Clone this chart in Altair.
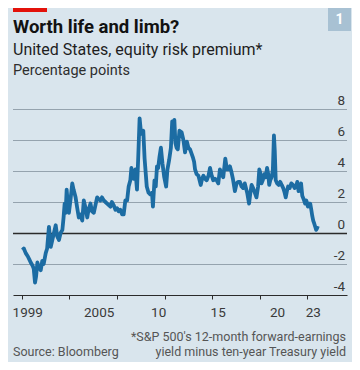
import altair as alt
import pandas as pd

# Equity risk premium, percentage points
years = [
    1999.06, 1999.17, 1999.33, 1999.50, 1999.63, 1999.75, 1999.90, 2000.00, 2000.11, 2000.20,
    2000.31, 2000.42, 2000.59, 2000.72, 2000.84, 2001.01, 2001.13, 2001.28, 2001.37, 2001.43,
    2001.55, 2001.70, 2001.85, 2001.97, 2002.12, 2002.26, 2002.41, 2002.51, 2002.60, 2002.68,
    2002.77, 2002.85, 2002.96, 2003.10, 2003.24, 2003.35, 2003.52, 2003.66, 2003.79, 2003.94,
    2004.08, 2004.21, 2004.36, 2004.50, 2004.61, 2004.77, 2004.90, 2005.05, 2005.19, 2005.33,
    2005.44, 2005.61, 2005.74, 2005.89, 2006.03, 2006.17, 2006.31, 2006.45, 2006.57, 2006.72,
    2006.87, 2007.01, 2007.14, 2007.28, 2007.43, 2007.56, 2007.70, 2007.85, 2007.98, 2008.12,
    2008.21, 2008.29, 2008.40, 2008.54, 2008.68, 2008.79, 2008.90, 2009.00, 2009.10, 2009.21,
    2009.32, 2009.40, 2009.50, 2009.65, 2009.79, 2009.94, 2010.02, 2010.15, 2010.26, 2010.36,
    2010.46, 2010.57, 2010.69, 2010.82, 2010.97, 2011.13, 2011.24, 2011.38, 2011.53, 2011.64,
    2011.74, 2011.82, 2011.91, 2012.01, 2012.11, 2012.25, 2012.43, 2012.58, 2012.72, 2012.87,
    2013.00, 2013.14, 2013.37, 2013.48, 2013.56, 2013.69, 2013.84, 2014.04, 2014.15, 2014.26,
    2014.40, 2014.54, 2014.69, 2014.82, 2014.96, 2015.09, 2015.23, 2015.38, 2015.51, 2015.65,
    2015.78, 2015.93, 2016.10, 2016.24, 2016.36, 2016.49, 2016.63, 2016.74, 2016.91, 2017.05,
    2017.18, 2017.33, 2017.47, 2017.60, 2017.74, 2017.87, 2017.94, 2018.10, 2018.21, 2018.31,
    2018.44, 2018.58, 2018.72, 2018.86, 2018.96, 2019.04, 2019.14, 2019.25, 2019.38, 2019.50,
    2019.61, 2019.71, 2019.79, 2019.88, 2020.00, 2020.10, 2020.19, 2020.26, 2020.34, 2020.46,
    2020.59, 2020.72, 2020.84, 2020.97, 2021.09, 2021.18, 2021.28, 2021.38, 2021.51, 2021.65,
    2021.79, 2021.93, 2022.05, 2022.15, 2022.26, 2022.37, 2022.47, 2022.57, 2022.68, 2022.81,
    2022.91, 2023.04, 2023.14, 2023.24, 2023.33, 2023.41, 2023.49, 2023.58, 2023.66, 2023.74,
    2023.81, 2023.88,
]
premium = [
    -1.1, -1.0, -1.3, -1.5, -1.7, -1.9, -2.1, -2.3, -3.2, -2.8,
    -1.9, -2.2, -2.4, -1.8, -2.0, -1.3, -1.0, 0.4, -0.3, -0.9,
    -0.5, 0.0, 0.5, -0.2, -0.45, 0.0, 0.2, 1.0, 1.9, 1.3,
    2.8, 2.0, 1.3, 2.2, 3.2, 2.8, 2.3, 1.6, 1.0, 1.2,
    0.8, 2.1, 1.6, 1.0, 1.5, 1.9, 1.4, 1.3, 1.8, 2.3,
    2.2, 2.1, 2.3, 2.1, 2.0, 1.9, 1.8, 1.7, 2.0, 1.8,
    1.5, 1.6, 1.4, 1.5, 1.2, 1.2, 2.1, 2.1, 3.0, 3.4,
    4.2, 3.6, 3.5, 4.1, 2.8, 5.0, 7.4, 6.6, 6.4, 6.6,
    4.8, 4.0, 3.0, 2.6, 2.5, 2.6, 1.7, 3.4, 3.0, 4.3,
    4.2, 4.9, 5.5, 4.5, 3.6, 3.0, 4.1, 4.7, 5.5, 7.2,
    6.6, 7.3, 5.8, 5.5, 5.4, 6.6, 6.5, 6.0, 5.2, 5.9,
    5.5, 5.4, 4.9, 4.6, 4.1, 3.8, 3.7, 3.1, 3.5, 3.7,
    3.5, 3.4, 3.7, 4.2, 3.7, 3.4, 3.5, 3.4, 3.2, 4.1,
    3.8, 3.6, 4.8, 4.1, 4.1, 4.3, 3.9, 3.5, 2.7, 3.2,
    3.3, 3.3, 3.0, 2.9, 3.2, 2.8, 2.6, 1.9, 2.6, 3.1,
    2.9, 2.6, 2.3, 3.0, 4.1, 3.9, 3.2, 3.4, 3.8, 3.6,
    4.2, 3.8, 3.1, 3.4, 3.6, 4.1, 6.3, 5.3, 3.4, 3.2,
    3.1, 3.3, 3.1, 2.9, 2.6, 2.3, 2.7, 3.0, 2.9, 3.2,
    3.1, 2.9, 3.0, 3.3, 2.7, 3.0, 3.2, 2.4, 2.2, 1.9,
    2.1, 1.7, 1.9, 1.9, 1.5, 1.1, 0.8, 0.6, 0.4, 0.2,
    0.3, 0.45,
]

tick_years = list(range(1999, 2025))
label_pos = [1999.5, 2005.5, 2010.5, 2015.5, 2020.5, 2023.5]
label_text = ["1999", "2005", "10", "15", "20", "23"]
y_ticks = [-4, -2, 0, 2, 4, 6, 8]
grid_vals = [-2, 2, 4, 6, 8]

title = "Worth life and limb?"
subtitle = "United States, equity risk premium*"
unit = "Percentage points"
source = "Source: Bloomberg"
note1 = "*S&P 500's 12-month forward-earnings"
note2 = "yield minus ten-year Treasury yield"

W, H = 334, 186
BG = "#d9e5ed"
FONT = "Roboto"

df = pd.DataFrame({"year": years, "erp": premium})
xscale = alt.Scale(domain=[1998.26, 2026.33], nice=False, zero=False)
yscale = alt.Scale(domain=[-4, 8], nice=False, zero=False)

# horizontal reference lines (light grid, dark zero line)
rules_df = pd.DataFrame({
    "r": grid_vals + [0],
    "kind": ["grid"] * len(grid_vals) + ["zero"],
})
rules = alt.Chart(rules_df).mark_rule(yOffset=0.5).encode(
    x=alt.value(0), x2=alt.value(W),
    y=alt.Y("r:Q", scale=yscale, axis=None),
    color=alt.Color("kind:N", legend=None,
                    scale=alt.Scale(domain=["grid", "zero"], range=["#95a3ae", "#2b2b2b"])),
    strokeWidth=alt.StrokeWidth("kind:N", legend=None,
                                scale=alt.Scale(domain=["grid", "zero"], range=[1.1, 1.3])),
)

ylabels = alt.Chart(pd.DataFrame({"v": y_ticks, "t": [str(v) for v in y_ticks]})).mark_text(
    font=FONT, fontSize=13.5, color="#3a3a3a", align="right", baseline="bottom", dy=-1
).encode(x=alt.value(W - 2), y=alt.Y("v:Q", scale=yscale, axis=None), text="t:N")

line = alt.Chart(df).mark_line(color="#1c6ca3", strokeWidth=3.8, strokeJoin="round").encode(
    x=alt.X("year:Q", scale=xscale,
            axis=alt.Axis(values=tick_years, labels=False, ticks=True, tickSize=4,
                          tickColor="#2b2b2b", tickWidth=1, domain=True,
                          domainColor="#2b2b2b", domainWidth=1.2, grid=False, title=None)),
    y=alt.Y("erp:Q", scale=yscale, axis=None),
)

xlabels = alt.Chart(pd.DataFrame({"p": label_pos, "t": label_text})).mark_text(
    font=FONT, fontSize=13.5, color="#3a3a3a", baseline="middle", align="center"
).encode(x=alt.X("p:Q", scale=xscale), y=alt.value(H + 18), text="t:N")

one = alt.Data(values=[{}])
red = alt.Chart(one).mark_rect(color="#e3120b").encode(
    x=alt.value(0), x2=alt.value(34), y=alt.value(-101), y2=alt.value(-97))
box = alt.Chart(one).mark_rect(color="#a8c1d3").encode(
    x=alt.value(315), x2=alt.value(338), y=alt.value(-101), y2=alt.value(-78))
box_t = alt.Chart(one).mark_text(font=FONT, fontSize=14, fontWeight="bold", color="white",
                                 align="center", baseline="middle").encode(
    x=alt.value(326.5), y=alt.value(-89.5), text=alt.value("1"))
t_title = alt.Chart(one).mark_text(font=FONT, fontSize=18.5, fontWeight="bold", color="#121212",
                                   align="left", baseline="alphabetic").encode(
    x=alt.value(0), y=alt.value(-76), text=alt.value(title))
t_sub = alt.Chart(one).mark_text(font=FONT, fontSize=16, color="#1e1e1e",
                                 align="left", baseline="alphabetic").encode(
    x=alt.value(0), y=alt.value(-54), text=alt.value(subtitle))
t_unit = alt.Chart(one).mark_text(font=FONT, fontSize=14.5, color="#2e2e2e",
                                  align="left", baseline="alphabetic").encode(
    x=alt.value(0), y=alt.value(-34), text=alt.value(unit))
t_src = alt.Chart(one).mark_text(font=FONT, fontSize=12.5, color="#555555",
                                 align="left", baseline="middle").encode(
    x=alt.value(0), y=alt.value(243), text=alt.value(source))
t_n1 = alt.Chart(one).mark_text(font=FONT, fontSize=12.5, color="#555555",
                                align="right", baseline="middle").encode(
    x=alt.value(333), y=alt.value(228), text=alt.value(note1))
t_n2 = alt.Chart(one).mark_text(font=FONT, fontSize=12.5, color="#555555",
                                align="right", baseline="middle").encode(
    x=alt.value(333), y=alt.value(243), text=alt.value(note2))

chart = alt.layer(rules, line, ylabels, xlabels, red, box, box_t, t_title, t_sub, t_unit,
                  t_src, t_n1, t_n2).properties(
    width=W, height=H,
    autosize=alt.AutoSizeParams(type="none"),
    padding={"left": 5, "top": 101, "right": 5, "bottom": 67},
    background=BG,
).configure_view(stroke=None)

chart.save("out.html", embed_options={"renderer": "svg", "actions": False})
